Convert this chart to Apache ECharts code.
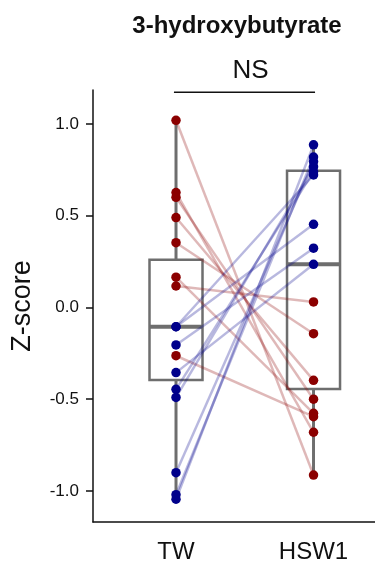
<!DOCTYPE html>
<html>
<head>
<meta charset="utf-8">
<script src="https://cdn.jsdelivr.net/npm/echarts@6/dist/echarts.min.js"></script>
<style>
  html, body { margin: 0; padding: 0; background: #fff; }
  #main { width: 375px; height: 570px; }
</style>
</head>
<body>
<div id="main"></div>
<script>
// 数据
var groups = ['TW', 'HSW1'];
// 配对的 Z-score（每个下标是同一个样本）
var twValues   = [1.02, 0.626, 0.60, 0.49, 0.353, 0.165, 0.117, -0.263,
                  -0.105, -0.105, -0.204, -0.355, -0.446, -0.49, -0.90, -1.02, -1.045];
var hsw1Values = [-0.913, -0.68, -0.50, -0.397, -0.143, -0.577, 0.03, -0.595,
                  0.453, 0.722, 0.323, 0.235, 0.74, 0.767, 0.795, 0.82, 0.886];
// 箱线图统计量 [min, Q1, median, Q3, max]
var twBox   = [-1.045, -0.395, -0.105, 0.26, 1.02];
var hsw1Box = [-0.913, -0.444, 0.235, 0.745, 0.886];
var yTicks = [-1, -0.5, 0, 0.5, 1];
var bracket = [[0.985, 1.173], [2.011, 1.173]];
var sigLabel = 'NS';

(function () {
  var myChart = echarts.init(document.getElementById('main'));
  var red = '#8b0000', blue = '#00008b';
  var boxHalf = 26.5;

  // 箱子
  var boxData = [[1].concat(twBox), [2].concat(hsw1Box)];

  // 连线 + 点
  var pairSeries = [];
  var redPts = [], bluePts = [];
  for (var i = 0; i < twValues.length; i++) {
    var up = hsw1Values[i] >= twValues[i];
    pairSeries.push({
      type: 'line',
      data: [[1, twValues[i]], [2, hsw1Values[i]]],
      symbol: 'none',
      silent: true,
      z: 3,
      lineStyle: { width: 2.5, color: up ? 'rgba(0,0,139,0.28)' : 'rgba(139,0,0,0.28)' }
    });
    (up ? bluePts : redPts).push([1, twValues[i]], [2, hsw1Values[i]]);
  }

  var option = {
    animation: false,
    title: [
      {
        text: '3-hydroxybutyrate',
        left: 232, top: 9, textAlign: 'center',
        textStyle: { fontFamily: 'Liberation Sans', fontWeight: 'bold', fontSize: 24, color: '#111' }
      },
      {
        text: sigLabel,
        left: 245.5, top: 53, textAlign: 'center',
        textStyle: { fontFamily: 'Liberation Sans', fontWeight: 'normal', fontSize: 26, color: '#111' }
      }
    ],
    grid: { left: 93, right: 0, top: 90, bottom: 48 },
    xAxis: {
      type: 'value',
      min: 0.3964,
      max: 2.447,
      splitLine: { show: false },
      axisLine: { show: true, onZero: false, lineStyle: { color: '#111', width: 1.5 } },
      axisTick: { show: false },
      axisLabel: {
        customValues: [1, 2],
        margin: 18,
        fontFamily: 'Liberation Sans',
        fontSize: 24,
        color: '#111',
        formatter: function (v) { return groups[Math.round(v) - 1] || ''; }
      }
    },
    yAxis: {
      type: 'value',
      min: -1.169,
      max: 1.185,
      name: 'Z-score',
      nameLocation: 'middle',
      nameGap: 57,
      nameTextStyle: { fontFamily: 'Liberation Sans', fontSize: 27, color: '#111' },
      splitLine: { show: false },
      axisLine: { show: true, onZero: false, lineStyle: { color: '#111', width: 1.5 } },
      axisTick: { show: true, length: 7, customValues: yTicks, lineStyle: { color: '#111', width: 1.5 } },
      axisLabel: {
        customValues: yTicks,
        margin: 14,
        fontFamily: 'Liberation Sans',
        fontSize: 17,
        color: '#111',
        formatter: function (v) { return v.toFixed(1); }
      }
    },
    series: [
      {
        type: 'custom',
        z: 1,
        silent: true,
        data: boxData,
        renderItem: function (params, api) {
          var x = api.value(0);
          var pMin = api.coord([x, api.value(1)]);
          var pQ1 = api.coord([x, api.value(2)]);
          var pMed = api.coord([x, api.value(3)]);
          var pQ3 = api.coord([x, api.value(4)]);
          var pMax = api.coord([x, api.value(5)]);
          var gray = '#6e6e6e';
          return {
            type: 'group',
            children: [
              { type: 'line', shape: { x1: pMin[0], y1: pMin[1], x2: pQ1[0], y2: pQ1[1] }, style: { stroke: gray, lineWidth: 3 } },
              { type: 'line', shape: { x1: pQ3[0], y1: pQ3[1], x2: pMax[0], y2: pMax[1] }, style: { stroke: gray, lineWidth: 3 } },
              { type: 'rect', shape: { x: pQ3[0] - boxHalf, y: pQ3[1], width: boxHalf * 2, height: pQ1[1] - pQ3[1] }, style: { fill: 'none', stroke: gray, lineWidth: 2.5 } },
              { type: 'line', shape: { x1: pMed[0] - boxHalf, y1: pMed[1], x2: pMed[0] + boxHalf, y2: pMed[1] }, style: { stroke: gray, lineWidth: 4 } }
            ]
          };
        }
      },
      {
        type: 'line',
        data: bracket,
        symbol: 'none',
        silent: true,
        z: 2,
        lineStyle: { color: '#111', width: 1.5 }
      }
    ].concat(pairSeries).concat([
      {
        type: 'scatter',
        data: redPts,
        symbolSize: 9.5,
        z: 5,
        itemStyle: { color: red, opacity: 1 }
      },
      {
        type: 'scatter',
        data: bluePts,
        symbolSize: 9.5,
        z: 5,
        itemStyle: { color: blue, opacity: 1 }
      }
    ])
  };
  myChart.setOption(option);
  window.addEventListener('resize', function () {
    myChart.resize();
  });
})();
</script>
</body>
</html>
